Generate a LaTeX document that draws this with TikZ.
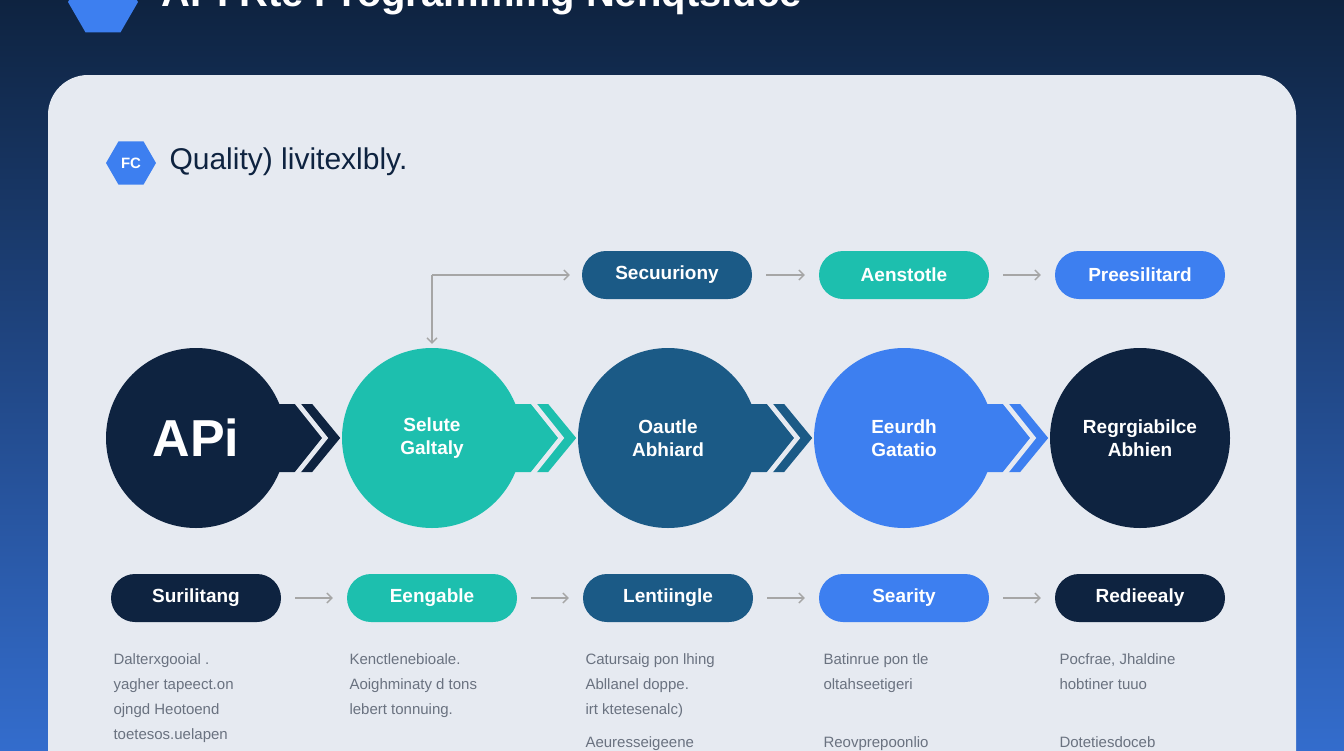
\documentclass[tikz,border=0pt]{standalone}
\usepackage{fontspec}
\setmainfont{Liberation Sans}
\usetikzlibrary{arrows.meta,shapes.geometric}
\definecolor{navy}{HTML}{0E2340}
\definecolor{teal}{HTML}{1DBFAE}
\definecolor{dblue}{HTML}{1B5A86}
\definecolor{lblue}{HTML}{3D7FF0}
\definecolor{panel}{HTML}{E6EAF1}
\definecolor{txt}{HTML}{6A7280}
\begin{document}
\begin{tikzpicture}[x=1pt,y=-1pt,
 circ/.style={circle,minimum size=180pt,inner sep=0pt,text=white,font=\bfseries\fontsize{19}{23}\selectfont,align=center},
 pill/.style={rounded corners=24pt,minimum width=170pt,minimum height=48pt,text=white,font=\bfseries\fontsize{19}{22}\selectfont},
 small/.style={-{Straight Barb[length=5pt]},draw=gray!70,line width=1.3pt},
 desc/.style={text=txt,font=\fontsize{15}{25}\selectfont,align=left,anchor=north west}]
\useasboundingbox (0,0) rectangle (1344,750);
\shade[top color=navy,middle color=navy!85!lblue,bottom color=lblue!80!navy] (0,0) rectangle (1344,750);
\node[anchor=west,text=white,font=\bfseries\fontsize{40}{44}\selectfont] (title) at (158,-4) {API Rte Programming Nehqtsidce};
\node[regular polygon,regular polygon sides=6,fill=lblue,minimum size=70pt] (logo) at (103,2) {};
\fill[panel,rounded corners=40pt] (48,75) rectangle (1296,800);
\node[regular polygon,regular polygon sides=6,fill=lblue,minimum size=50pt,text=white,font=\bfseries\fontsize{15}{15}\selectfont,inner sep=0pt] (fc) at (131,163) {FC};
\node[anchor=west,font=\fontsize{30}{34}\selectfont,text=navy] (sub) at (166,162) {Quality) livitexlbly.};
% circles
\node[circ,fill=navy,font=\bfseries\fontsize{52}{56}\selectfont] (c1) at (196,438) {APi};
\node[circ,fill=teal] (c2) at (432,438) {Selute\\Galtaly};
\node[circ,fill=dblue] (c3) at (668,438) {Oautle\\Abhiard};
\node[circ,fill=lblue] (c4) at (904,438) {Eeurdh\\Gatatio};
\node[circ,fill=navy] (c5) at (1140,438) {Regrgiabilce\\Abhien};
\foreach \a/\c in {c1/navy,c2/teal,c3/dblue,c4/lblue}{
 \fill[\c] ([shift={(-8,-34)}]\a.east) -- ++(34,0) -- ++(28,34) -- ++(-28,34) -- ++(-34,0) -- cycle;
 \fill[panel] ([shift={(4,-40)}]\a.east) -- ++(6,0) -- ++(32,40) -- ++(-32,40) -- ++(-6,0) -- ++(32,-40) -- cycle;
}
% top pills
\node[pill,fill=dblue] (t1) at (667,275) {Secuuriony};
\node[pill,fill=teal] (t2) at (904,275) {Aenstotle};
\node[pill,fill=lblue] (t3) at (1140,275) {Preesilitard};
\draw[small,shorten <=14pt,shorten >=14pt] (t1) -- (t2);
\draw[small,shorten <=14pt,shorten >=14pt] (t2) -- (t3);
\coordinate (corner) at (432,275);
\draw[small,shorten >=12pt] (corner) -- (t1.west);
\draw[small,shorten >=6pt] (corner) -- ([yshift=-2pt]c2.north);
% bottom pills
\node[pill,fill=navy] (b1) at (196,598) {Surilitang};
\node[pill,fill=teal] (b2) at (432,598) {Eengable};
\node[pill,fill=dblue] (b3) at (668,598) {Lentiingle};
\node[pill,fill=lblue] (b4) at (904,598) {Searity};
\node[pill,fill=navy] (b5) at (1140,598) {Redieealy};
\foreach \a/\b in {b1/b2,b2/b3,b3/b4,b4/b5}{\draw[small,shorten <=14pt,shorten >=14pt] (\a) -- (\b);}
% descriptions
\node[desc] (d1) at (110,650) {Dalterxgooial .\\yagher tapeect.on\\ojngd Heotoend\\toetesos.uelapen};
\node[desc] (d2) at (346,650) {Kenctlenebioale.\\Aoighminaty d tons\\lebert tonnuing.};
\node[desc] (d3) at (582,650) {Catursaig pon lhing\\Abllanel doppe.\\irt ktetesenalc)};
\node[desc] (d4) at (820,650) {Batinrue pon tle\\oltahseetigeri};
\node[desc] (d5) at (1056,650) {Pocfrae, Jhaldine\\hobtiner tuuo};
\node[desc] (d6) at (582,733) {Aeuresseigeene};
\node[desc] (d7) at (820,733) {Reovprepoonlio};
\node[desc] (d8) at (1056,733) {Dotetiesdoceb};
\end{tikzpicture}
\end{document}
